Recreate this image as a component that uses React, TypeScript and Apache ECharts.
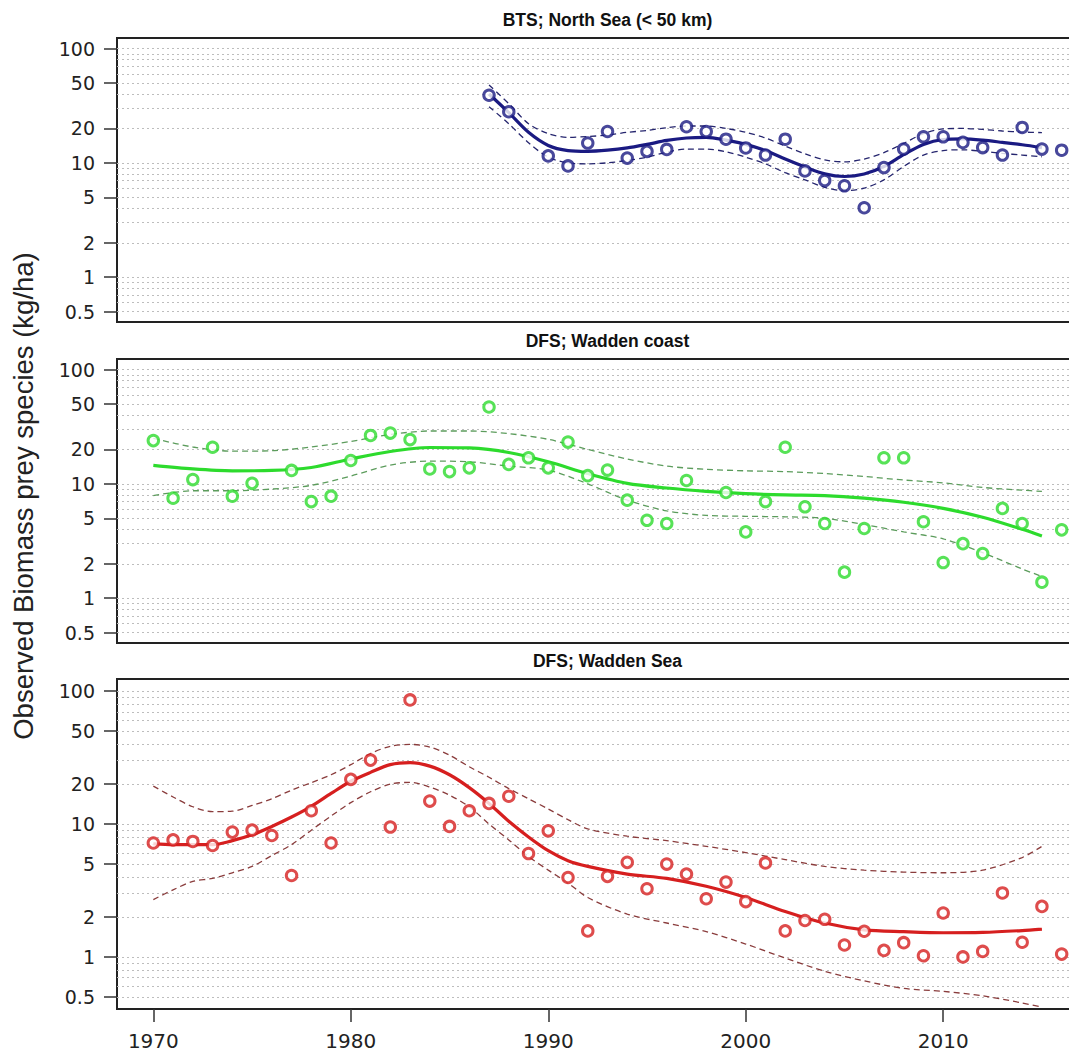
import React, { useEffect, useRef } from "react";
import * as echarts from "echarts";

// ---------- Panel titles / axis texts ----------
const panelTitles = ["BTS; North Sea (< 50 km)", "DFS; Wadden coast", "DFS; Wadden Sea"];
const yAxisTitle = "Observed Biomass prey species (kg/ha)";
const yTickValues = [0.5, 1, 2, 5, 10, 20, 50, 100];
const yGridValues = [
  0.5, 0.6, 0.7, 0.8, 0.9, 1, 2, 3, 4, 5, 6, 7, 8, 9, 10, 20, 30, 40, 50, 60, 70, 80, 90, 100,
];
const xTickValues = [1970, 1980, 1990, 2000, 2010];

// ---------- Panel 1: BTS North Sea ----------
const btsYears = [
  1987, 1988, 1990, 1991, 1992, 1993, 1994, 1995, 1996, 1997, 1998, 1999, 2000, 2001, 2002,
  2003, 2004, 2005, 2006, 2007, 2008, 2009, 2010, 2011, 2012, 2013, 2014, 2015, 2016,
];
const btsValues = [
  39, 28, 11.5, 9.4, 14.9, 18.8, 11, 12.6, 13.1, 20.7, 18.8, 16.1, 13.5, 11.7, 16.1, 8.5, 7.0,
  6.3, 4.05, 9.1, 13.2, 16.9, 16.9, 15.1, 13.6, 11.7, 20.4, 13.2, 12.9,
];
const btsCurveYears = [
  1987, 1988, 1989, 1990, 1991, 1992, 1993, 1994, 1995, 1996, 1997, 1998, 1999, 2000, 2001,
  2002, 2003, 2004, 2005, 2006, 2007, 2008, 2009, 2010, 2011, 2012, 2013, 2014, 2015,
];
const btsFit = [
  40, 27.5, 18.5, 14.2, 12.8, 12.6, 12.9, 13.5, 14.5, 15.7, 16.5, 16.7, 15.8, 14.5, 12.8, 10.8,
  9.2, 8.0, 7.6, 8.0, 9.3, 11.8, 14.5, 16.0, 16.2, 15.8, 15.1, 14.4, 13.6,
];
const btsUpper = [
  48, 33, 22, 18, 16.7, 17.0, 17.5, 18.5, 19.2, 20.3, 21, 21, 20, 18.5, 16.5, 14.0, 12.0, 10.6,
  10.2, 10.8, 12.3, 14.8, 18.0, 19.8, 20.0, 19.6, 19.0, 18.6, 18.4,
];
const btsLower = [
  31, 22, 15, 11.2, 10.0, 9.8, 10.0, 10.5, 11.2, 12.4, 13.2, 13.2, 12.5, 11.2, 9.8, 8.2, 7.1,
  6.1, 5.7, 6.0, 7.1, 9.3, 11.7, 12.8, 13.0, 12.6, 12.1, 11.7, 11.3,
];

// ---------- Panel 2: DFS Wadden coast ----------
const coastYears = [
  1970, 1971, 1972, 1973, 1974, 1975, 1977, 1978, 1979, 1980, 1981, 1982, 1983, 1984, 1985,
  1986, 1987, 1988, 1989, 1990, 1991, 1992, 1993, 1994, 1995, 1996, 1997, 1999, 2000, 2001,
  2002, 2003, 2004, 2005, 2006, 2007, 2008, 2009, 2010, 2011, 2012, 2013, 2014, 2015, 2016,
];
const coastValues = [
  23.9, 7.5, 10.9, 20.9, 7.8, 10.1, 13.1, 7.0, 7.8, 16.0, 26.5, 27.8, 24.4, 13.5, 12.8, 13.8,
  47, 14.8, 16.9, 13.8, 23.2, 11.8, 13.2, 7.2, 4.8, 4.5, 10.7, 8.4, 3.8, 7.0, 20.9, 6.3, 4.5,
  1.69, 4.07, 16.9, 16.9, 4.66, 2.05, 3.0, 2.46, 6.1, 4.5, 1.38, 3.96,
];
const coastCurveYears = [
  1970, 1972, 1974, 1976, 1978, 1980, 1982, 1984, 1986, 1988, 1990, 1992, 1994, 1996, 1998,
  2000, 2002, 2004, 2006, 2008, 2010, 2012, 2014, 2015,
];
const coastFit = [
  14.5, 13.5, 13.0, 13.1, 13.9, 16.5, 19.2, 20.8, 20.6, 18.8, 15.6, 12.3, 10.1, 9.2, 8.6, 8.2,
  8.0, 7.9, 7.5, 6.9, 6.1, 5.1, 4.0, 3.5,
];
const coastUpper = [
  25, 21, 19.3, 19.5, 21, 23.5, 27, 29, 29, 27.5, 24.5, 20, 16.5, 14.3, 13.4, 13.0, 12.8, 12.3,
  11.6, 10.8, 10.2, 9.3, 8.8, 8.6,
];
const coastLower = [
  7.9, 8.7, 8.7, 9.0, 9.7, 11.7, 14.6, 15.8, 15.6, 14.3, 13.2, 10.0, 7.2, 5.8, 5.3, 5.2, 5.15,
  5.0, 4.4, 3.8, 3.3, 2.5, 1.8, 1.55,
];

// ---------- Panel 3: DFS Wadden Sea ----------
const seaYears = [
  1970, 1971, 1972, 1973, 1974, 1975, 1976, 1977, 1978, 1979, 1980, 1981, 1982, 1983, 1984,
  1985, 1986, 1987, 1988, 1989, 1990, 1991, 1992, 1993, 1994, 1995, 1996, 1997, 1998, 1999,
  2000, 2001, 2002, 2003, 2004, 2005, 2006, 2007, 2008, 2009, 2010, 2011, 2012, 2013, 2014,
  2015, 2016,
];
const seaValues = [
  7.2, 7.6, 7.4, 6.9, 8.7, 9.0, 8.2, 4.1, 12.6, 7.2, 21.7, 30.3, 9.5, 86, 14.9, 9.6, 12.6, 14.3,
  16.2, 6.0, 8.9, 3.96, 1.57, 4.04, 5.15, 3.26, 5.0, 4.2, 2.74, 3.66, 2.61, 5.1, 1.57, 1.88,
  1.92, 1.23, 1.56, 1.12, 1.28, 1.02, 2.14, 1.0, 1.1, 3.03, 1.29, 2.4, 1.05,
];
const seaCurveYears = [
  1970, 1971, 1972, 1973, 1974, 1975, 1976, 1977, 1978, 1979, 1980, 1981, 1982, 1983, 1984,
  1985, 1986, 1987, 1988, 1989, 1990, 1991, 1992, 1994, 1996, 1998, 2000, 2002, 2004, 2006,
  2008, 2010, 2012, 2014, 2015,
];
const seaFit = [
  7.1, 7.0, 7.0, 7.0, 7.5, 8.3, 9.6, 11.3, 13.6, 17, 21, 24.5, 28, 29, 27.3, 23.5, 18.8, 14.3,
  10.5, 8.0, 6.3, 5.3, 4.8, 4.2, 3.9, 3.4, 2.8, 2.2, 1.8, 1.6, 1.55, 1.52, 1.53, 1.58, 1.62,
];
const seaUpper = [
  19.3, 16, 13.5, 12.4, 12.5, 13.8, 15.5, 18, 20.5, 23.5, 28, 34, 38.5, 39.8, 38, 33, 27, 22.5,
  18.5, 15.5, 13, 10.8, 9.2, 8.1, 7.5, 6.8, 6.1, 5.4, 4.8, 4.5, 4.35, 4.3, 4.5, 5.6, 6.8,
];
const seaLower = [
  2.7, 3.2, 3.7, 3.9, 4.3, 4.8, 5.8, 7.0, 9.0, 11.5, 14.5, 17.5, 20.0, 20.6, 19.0, 16.5, 13.5,
  10, 7.6, 5.7, 4.5, 3.6, 2.8, 2.1, 1.8, 1.55, 1.25, 0.98, 0.78, 0.66, 0.58, 0.55, 0.51, 0.45,
  0.42,
];

const panels = [
  {
    years: btsYears, values: btsValues, curveYears: btsCurveYears,
    fit: btsFit, upper: btsUpper, lower: btsLower,
    color: "#1a1a82", band: "#25256e",
  },
  {
    years: coastYears, values: coastValues, curveYears: coastCurveYears,
    fit: coastFit, upper: coastUpper, lower: coastLower,
    color: "#2ddb2d", band: "#5c9c5c",
  },
  {
    years: seaYears, values: seaValues, curveYears: seaCurveYears,
    fit: seaFit, upper: seaUpper, lower: seaLower,
    color: "#d61f1f", band: "#8a3c3c",
  },
];

const CHART_W = 1110;
const CHART_H = 1054;
const GRID_LEFT = 117;
const GRID_W = 981;
const gridBoxes = [
  { top: 38, height: 284 },
  { top: 359, height: 284 },
  { top: 679, height: 330 },
];
const X_MIN = 1968.16;
const X_MAX = 2017.84;
const Y_MIN = 0.4055;
const Y_MAX = 123.6;

function pairs(xs: number[], ys: number[]) {
  return xs.map((x, i) => [x, ys[i]]);
}

export default function App() {
  const ref = useRef<HTMLDivElement>(null);

  useEffect(() => {
    if (!ref.current) return;
    const chart = echarts.init(ref.current, undefined, { renderer: "svg" });

    const grids: any[] = [];
    const xAxes: any[] = [];
    const yAxes: any[] = [];
    const series: any[] = [];
    const graphics: any[] = [];

    panels.forEach((p, i) => {
      const gb = gridBoxes[i];
      grids.push({
        left: GRID_LEFT,
        width: GRID_W,
        top: gb.top,
        height: gb.height,
        show: true,
        borderColor: "#222",
        borderWidth: 2,
        backgroundColor: "transparent",
        containLabel: false,
        outerBoundsMode: "none",
      });
      const isBottom = i === panels.length - 1;
      xAxes.push({
        gridIndex: i,
        type: "value",
        min: X_MIN,
        max: X_MAX,
        axisLine: { show: false },
        splitLine: { show: false },
        axisTick: {
          show: isBottom,
          customValues: xTickValues,
          length: 13,
          lineStyle: { color: "#333", width: 1.5 },
        },
        axisLabel: {
          show: isBottom,
          customValues: xTickValues,
          margin: 22,
          color: "#222",
          fontFamily: "DejaVu Sans",
          fontSize: 20,
          formatter: (v: number) => String(Math.round(v)),
        },
      });
      // main y axis (ticks + labels)
      yAxes.push({
        gridIndex: i,
        type: "log",
        logBase: 10,
        min: Y_MIN,
        max: Y_MAX,
        axisLine: { show: false },
        splitLine: { show: false },
        axisTick: {
          show: true,
          customValues: yTickValues,
          length: 13,
          lineStyle: { color: "#333", width: 1.5 },
        },
        axisLabel: {
          show: true,
          customValues: yTickValues,
          margin: 22,
          color: "#222",
          fontFamily: "DejaVu Sans",
          fontSize: 19,
          formatter: (v: number) => String(Math.round(v * 10) / 10),
        },
      });
      // helper y axis for the dotted minor grid
      yAxes.push({
        gridIndex: i,
        type: "log",
        logBase: 10,
        min: Y_MIN,
        max: Y_MAX,
        axisLine: { show: false },
        axisLabel: { show: false },
        axisTick: { show: false, customValues: yGridValues },
        splitLine: {
          show: true,
          lineStyle: { color: "#bdbdbd", width: 1, type: [2, 3] },
        },
      });

      const yIdx = i * 2;
      series.push({
        type: "line",
        xAxisIndex: i,
        yAxisIndex: yIdx,
        data: pairs(p.curveYears, p.upper),
        smooth: 0.3,
        showSymbol: false,
        symbol: "none",
        lineStyle: { color: p.band, width: 1.3, type: [6, 4] },
        clip: true,
        z: 3,
      });
      series.push({
        type: "line",
        xAxisIndex: i,
        yAxisIndex: yIdx,
        data: pairs(p.curveYears, p.lower),
        smooth: 0.3,
        showSymbol: false,
        symbol: "none",
        lineStyle: { color: p.band, width: 1.3, type: [6, 4] },
        clip: true,
        z: 3,
      });
      series.push({
        type: "line",
        xAxisIndex: i,
        yAxisIndex: yIdx,
        data: pairs(p.curveYears, p.fit),
        smooth: 0.3,
        showSymbol: false,
        symbol: "none",
        lineStyle: { color: p.color, width: 3.2 },
        clip: true,
        z: 4,
      });
      series.push({
        type: "scatter",
        xAxisIndex: i,
        yAxisIndex: yIdx,
        data: pairs(p.years, p.values),
        symbol: "circle",
        symbolSize: 10.5,
        itemStyle: { color: "#ffffff", borderColor: p.color, borderWidth: 3 },
        clip: false,
        z: 5,
      });

      graphics.push({
        type: "text",
        x: GRID_LEFT + GRID_W / 2,
        y: gb.top - 18,
        style: {
          text: panelTitles[i],
          textAlign: "center",
          textVerticalAlign: "middle",
          fontFamily: "Liberation Sans, Arial, sans-serif",
          fontWeight: "bold",
          fontSize: 17.5,
          fill: "#111",
        },
      });
    });

    graphics.push({
      type: "text",
      x: 23,
      y: 496,
      rotation: Math.PI / 2,
      style: {
        text: yAxisTitle,
        textAlign: "center",
        textVerticalAlign: "middle",
        fontFamily: "Liberation Sans, Arial, sans-serif",
        fontSize: 27.5,
        fill: "#222",
      },
    });

    chart.setOption({
      animation: false,
      backgroundColor: "#ffffff",
      grid: grids,
      xAxis: xAxes,
      yAxis: yAxes,
      series,
      graphic: graphics,
    });

    return () => {
      chart.dispose();
    };
  }, []);

  return (
    <div
      style={{
        position: "fixed",
        left: 0,
        top: 0,
        width: 1069,
        height: 1054,
        overflow: "hidden",
        background: "#fff",
      }}
    >
      <div ref={ref} style={{ width: CHART_W, height: CHART_H }} />
    </div>
  );
}
